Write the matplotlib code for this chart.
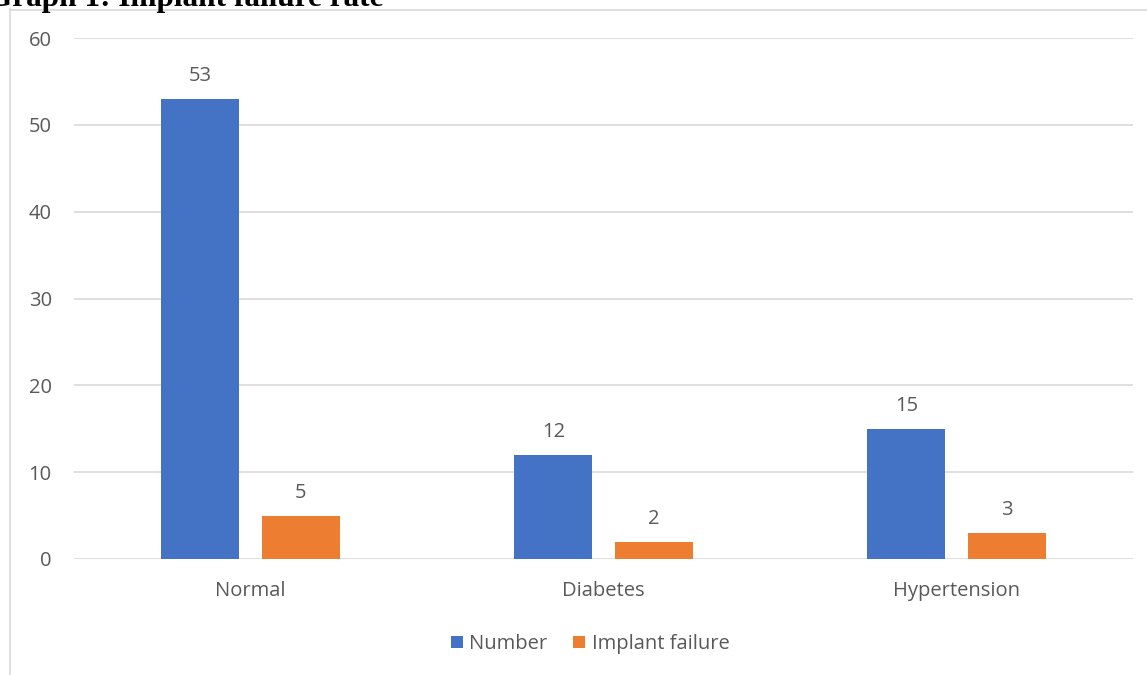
import numpy as np
import matplotlib
matplotlib.use('Agg')
import matplotlib.pyplot as plt
from matplotlib.lines import Line2D

BLUE = '#4472C4'
ORANGE = '#ED7D31'
TEXT_GREY = '#595959'
GRID_GREY = '#D9D9D9'

categories = ['Normal', 'Diabetes', 'Hypertension']
number = [53, 12, 15]
implant_failure = [5, 2, 3]
yticks = [0, 10, 20, 30, 40, 50, 60]

plt.rcParams['font.family'] = ['Open Sans', 'DejaVu Sans']

W, H = 1147, 675
fig = plt.figure(figsize=(W / 100, H / 100), dpi=100, facecolor='white')
ax = fig.add_axes([74 / W, 1 - 559 / H, (1133 - 74) / W, (559 - 38) / H])

x = np.arange(len(categories))
bw = 0.221
off = 0.142
b1 = ax.bar(x - off, number, bw, color=BLUE, label='Number', zorder=3)
b2 = ax.bar(x + off, implant_failure, bw, color=ORANGE, label='Implant failure', zorder=3)

for bars, vals in [(b1, number), (b2, implant_failure)]:
    for bar, v in zip(bars, vals):
        ax.annotate(str(v), (bar.get_x() + bar.get_width() / 2, v),
                    xytext=(0, 23), textcoords='offset pixels',
                    ha='center', va='center', fontsize=14.5, color=TEXT_GREY)

ax.set_xlim(-0.5, len(categories) - 0.5)
ax.set_ylim(0, 60)
ax.set_yticks(yticks)
ax.set_xticks(x)
ax.set_xticklabels(categories)
ax.tick_params(axis='both', length=0, labelsize=14.5, labelcolor=TEXT_GREY)
ax.tick_params(axis='y', pad=16)
ax.tick_params(axis='x', pad=16)
ax.grid(axis='y', color=GRID_GREY, linewidth=1.2, zorder=0)
for s in ax.spines.values():
    s.set_visible(False)

leg = fig.legend(handles=[b1, b2], loc='center', bbox_to_anchor=(590 / W, 1 - 644 / H),
                 ncol=2, frameon=False, fontsize=14.5, handlelength=0.6, handleheight=0.6,
                 handletextpad=0.33, columnspacing=1.25)
for t in leg.get_texts():
    t.set_color(TEXT_GREY)

# chart frame (left and top borders)
fig.add_artist(Line2D([10 / W, 10 / W], [0, 1 - 9 / H], color=GRID_GREY, linewidth=1.2))
fig.add_artist(Line2D([10 / W, 1], [1 - 9.5 / H, 1 - 9.5 / H], color=GRID_GREY, linewidth=1.2))

# title, cut at the top edge
fig.text(-12 / W, 1 - 6 / H, 'Graph 1: Implant failure rate', ha='left', va='baseline',
         fontsize=22.5, fontweight='bold', family='Liberation Serif', color='black')

fig.savefig('out.png', dpi=100, facecolor='white')
